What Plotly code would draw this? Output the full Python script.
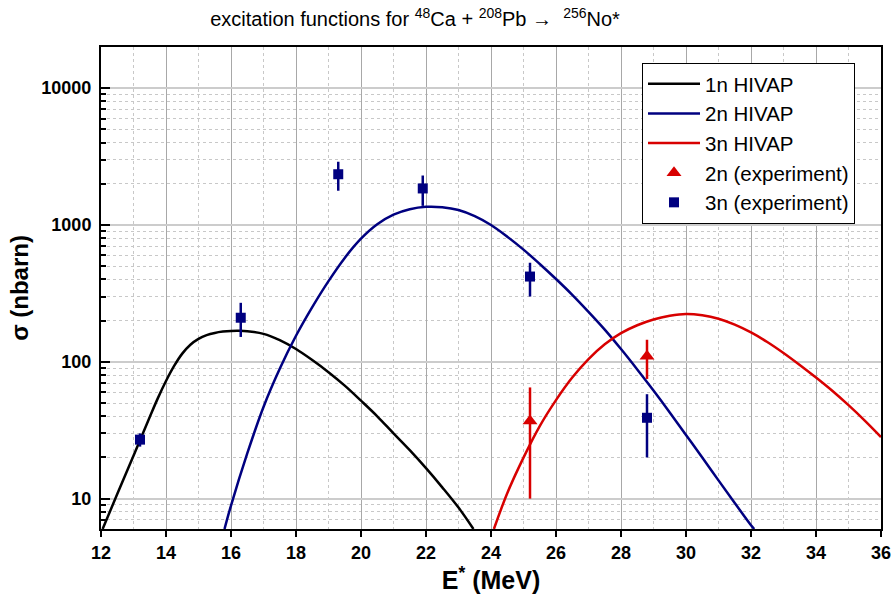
import plotly.graph_objects as go

# HIVAP calculated excitation functions
hivap_1n_x = [12.05, 12.5, 13.0, 13.5, 13.75, 14.0, 14.25, 14.5, 14.75, 15.0, 15.25, 15.5, 15.75, 16.0,
              16.25, 16.5, 17.0, 17.5, 18.0, 18.5, 19.0, 19.5, 20.0, 20.5, 21.0, 21.5, 22.0, 22.5,
              23.0, 23.46]
hivap_1n_y = [6, 10.8, 20.6, 39.5, 54.3, 72.4, 93.3, 114.8, 133.4, 147.2, 156.7, 162.6, 166.3, 168.3,
              168.7, 167.5, 160, 144, 124, 103, 84, 67, 52, 40, 30, 22.6, 16.7, 12.1,
              8.6, 6]

hivap_2n_x = [15.8, 16.0, 16.5, 17.0, 17.5, 18.0, 18.5, 19.0, 19.5, 20.0, 20.5, 21.0, 21.5, 22.0,
              22.5, 23.0, 23.5, 24.0, 24.5, 25.0, 25.5, 26.0, 26.5, 27.0, 27.5, 28.0, 28.5, 29.0,
              29.5, 30.0, 30.5, 31.0, 31.5, 32.0, 32.1]
hivap_2n_y = [6, 8.9, 21.4, 46.8, 89, 155, 251, 389, 575, 794, 1012, 1189, 1303, 1358,
              1349, 1288, 1161, 1000, 822, 661, 519, 403, 309, 232, 172, 124, 88, 61.7,
              42.7, 29.2, 20, 13.6, 9.3, 6.4, 6]

hivap_3n_x = [24.09, 24.5, 25.0, 25.5, 26.0, 26.5, 27.0, 27.5, 28.0, 28.5, 29.0, 29.5, 30.0,
              30.5, 31.0, 31.5, 32.0, 32.5, 33.0, 33.5, 34.0, 34.5, 35.0, 35.5, 36.0]
hivap_3n_y = [6, 10.96, 19.95, 33.9, 52.5, 76.7, 104.7, 134.3, 162, 185, 204, 217, 224,
              219, 206.5, 187, 164, 139.6, 116, 94.8, 76.7, 61.4, 48.2, 37.2, 28.2]

# experimental points
exp_2n_x = [25.2, 28.8]
exp_2n_y = [37, 110]
exp_2n_hi = [65, 145]
exp_2n_lo = [10, 75]

exp_3n_x = [13.2, 16.3, 19.3, 21.9, 25.2, 28.8]
exp_3n_y = [27, 210, 2350, 1850, 420, 39]
exp_3n_hi = [30, 270, 2900, 2300, 530, 58]
exp_3n_lo = [24, 152, 1780, 1380, 300, 20]

x_ticks = list(range(12, 37, 2))
y_ticks = [10, 100, 1000, 10000]

BLACK = "#000000"
BLUE = "#000080"
RED = "#d80000"
FONT = "Liberation Sans, Arial, sans-serif"

fig = go.Figure()

fig.add_trace(go.Scatter(x=hivap_1n_x, y=hivap_1n_y, mode="lines", name="1n HIVAP",
                         line=dict(color=BLACK, width=2.5, shape="spline", smoothing=1.0)))
fig.add_trace(go.Scatter(x=hivap_2n_x, y=hivap_2n_y, mode="lines", name="2n HIVAP",
                         line=dict(color=BLUE, width=2.5, shape="spline", smoothing=1.0)))
fig.add_trace(go.Scatter(x=hivap_3n_x, y=hivap_3n_y, mode="lines", name="3n HIVAP",
                         line=dict(color=RED, width=2.5, shape="spline", smoothing=1.0)))

fig.add_trace(go.Scatter(
    x=exp_2n_x, y=exp_2n_y, mode="markers", name="2n (experiment)",
    marker=dict(symbol="triangle-up", size=13, color=RED),
    error_y=dict(type="data", symmetric=False,
                 array=[h - v for h, v in zip(exp_2n_hi, exp_2n_y)],
                 arrayminus=[v - l for l, v in zip(exp_2n_lo, exp_2n_y)],
                 color=RED, thickness=2.5, width=0)))
fig.add_trace(go.Scatter(
    x=exp_3n_x, y=exp_3n_y, mode="markers", name="3n (experiment)",
    marker=dict(symbol="square", size=10, color=BLUE),
    error_y=dict(type="data", symmetric=False,
                 array=[h - v for h, v in zip(exp_3n_hi, exp_3n_y)],
                 arrayminus=[v - l for l, v in zip(exp_3n_lo, exp_3n_y)],
                 color=BLUE, thickness=2.5, width=0)))

minor_y = [m * 10 ** k for k in range(0, 5) for m in range(2, 10)]

fig.update_layout(
    width=892, height=601, autosize=False,
    margin=dict(l=101, r=11, t=47, b=72),
    paper_bgcolor="white", plot_bgcolor="white",
    font=dict(family=FONT, color="black"),
    title=dict(text="excitation functions for <sup>48</sup>Ca + <sup>208</sup>Pb \u2192  <sup>256</sup>No*",
               x=415 / 892, xanchor="center", y=1 - 19 / 601, yanchor="middle", yref="container",
               font=dict(size=20, family=FONT)),
    showlegend=True,
    legend=dict(x=(642 - 101) / 780, y=0.967, xanchor="left", yanchor="top",
                bgcolor="white", bordercolor="black", borderwidth=1,
                itemwidth=52,
                font=dict(size=20.5, family=FONT), tracegroupgap=0),
    xaxis=dict(
        range=[12, 36], tickvals=x_ticks, ticks="outside", ticklen=6, tickwidth=2, tickcolor="black",
        showline=True, linecolor="black", linewidth=2, mirror=True, automargin=False,
        showgrid=True, gridcolor="#a8a8a8", gridwidth=1,
        minor=dict(dtick=1, tick0=12, showgrid=True, gridcolor="#c8c8c8", griddash="dot", gridwidth=1, ticks=""),
        tickfont=dict(size=18, family=FONT, weight="bold"),
        title=dict(text="E<sup>*</sup> (MeV)", font=dict(size=25, family=FONT, weight="bold"), standoff=4),
        zeroline=False,
    ),
    xaxis2=dict(
        range=[12, 36], overlaying="x", side="top", anchor="y", automargin=False,
        tickvals=x_ticks, ticks="inside", ticklen=8, tickwidth=2, tickcolor="black",
        minor=dict(dtick=1, tick0=12, ticks="inside", ticklen=5, tickwidth=1.5, tickcolor="black", showgrid=False),
        showticklabels=False, showgrid=False, showline=False, zeroline=False,
    ),
    yaxis=dict(
        type="log", range=[0.7782, 4.301], tickvals=y_ticks, ticktext=[str(v) for v in y_ticks],
        ticks="inside", ticklen=9, tickwidth=2, tickcolor="black",
        showline=True, linecolor="black", linewidth=2, mirror=True, automargin=False,
        showgrid=True, gridcolor="#cccccc", gridwidth=1.5,
        minor=dict(tickvals=minor_y, ticks="inside", ticklen=5, tickwidth=1.5, tickcolor="black",
                   showgrid=True, gridcolor="#c8c8c8", griddash="dot", gridwidth=1),
        tickfont=dict(size=18, family=FONT, weight="bold"),
        ticklabelstandoff=4,
        title=dict(text="\u03c3 (nbarn)", font=dict(size=24, family=FONT, weight="bold"), standoff=6),
        zeroline=False,
    ),
)

fig.write_html(
    "out.html",
    config={"displayModeBar": False, "responsive": False},
    post_script="document.body.style.margin='0';document.body.style.padding='0';"
                "document.body.style.overflow='hidden';",
)
